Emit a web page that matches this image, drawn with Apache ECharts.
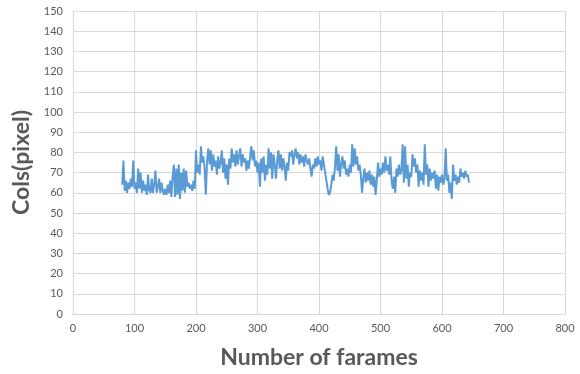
<!DOCTYPE html>
<html>
<head>
<meta charset="utf-8">
<script src="https://cdn.jsdelivr.net/npm/echarts@6/dist/echarts.min.js"></script>
<style>
  html, body { margin: 0; padding: 0; background: #fff; }
  #chart { width: 580px; height: 374px; }
</style>
</head>
<body>
<div id="chart"></div>
<script>
// frame numbers (every 2nd frame) and column values
const frames = [
  80, 82, 84, 86, 88, 90, 92, 94, 96, 98, 100, 102, 104, 106, 108, 110, 112, 114, 116, 118,
  120, 122, 124, 126, 128, 130, 132, 134, 136, 138, 140, 142, 144, 146, 148, 150, 152, 154, 156, 158,
  160, 162, 164, 166, 168, 170, 172, 174, 176, 178, 180, 182, 184, 186, 188, 190, 192, 194, 196, 198,
  200, 202, 204, 206, 208, 210, 212, 214, 216, 218, 220, 222, 224, 226, 228, 230, 232, 234, 236, 238,
  240, 242, 244, 246, 248, 250, 252, 254, 256, 258, 260, 262, 264, 266, 268, 270, 272, 274, 276, 278,
  280, 282, 284, 286, 288, 290, 292, 294, 296, 298, 300, 302, 304, 306, 308, 310, 312, 314, 316, 318,
  320, 322, 324, 326, 328, 330, 332, 334, 336, 338, 340, 342, 344, 346, 348, 350, 352, 354, 356, 358,
  360, 362, 364, 366, 368, 370, 372, 374, 376, 378, 380, 382, 384, 386, 388, 390, 392, 394, 396, 398,
  400, 402, 404, 406, 408, 410, 412, 414, 416, 418, 420, 422, 424, 426, 428, 430, 432, 434, 436, 438,
  440, 442, 444, 446, 448, 450, 452, 454, 456, 458, 460, 462, 464, 466, 468, 470, 472, 474, 476, 478,
  480, 482, 484, 486, 488, 490, 492, 494, 496, 498, 500, 502, 504, 506, 508, 510, 512, 514, 516, 518,
  520, 522, 524, 526, 528, 530, 532, 534, 536, 538, 540, 542, 544, 546, 548, 550, 552, 554, 556, 558,
  560, 562, 564, 566, 568, 570, 572, 574, 576, 578, 580, 582, 584, 586, 588, 590, 592, 594, 596, 598,
  600, 602, 604, 606, 608, 610, 612, 614, 616, 618, 620, 622, 624, 626, 628, 630, 632, 634, 636, 638,
  640, 642, 644
];
const cols = [
  64, 76, 61, 66, 60, 65, 62, 67, 63, 76, 62, 65, 60, 72, 62, 70, 60, 66, 61, 64,
  59, 69, 61, 60, 67, 60, 64, 71, 60, 63, 67, 60, 65, 61, 59, 62, 59, 64, 60, 66,
  58, 68, 74, 58, 72, 59, 74, 57, 70, 61, 72, 60, 71, 63, 65, 62, 64, 61, 66, 62,
  81, 70, 74, 69, 83, 75, 78, 72, 59, 76, 82, 74, 81, 71, 79, 73, 76, 69, 78, 72,
  75, 81, 70, 77, 67, 74, 64, 77, 72, 82, 75, 79, 73, 81, 74, 78, 82, 73, 79, 75,
  77, 71, 76, 72, 78, 83, 76, 81, 73, 76, 70, 75, 63, 77, 70, 78, 66, 74, 69, 82,
  72, 80, 67, 79, 74, 67, 76, 81, 72, 79, 71, 77, 73, 66, 75, 71, 80, 78, 81, 74,
  79, 82, 77, 80, 74, 79, 75, 78, 73, 79, 76, 74, 77, 72, 68, 74, 72, 77, 73, 78,
  74, 76, 71, 78, 74, 70, 66, 62, 59, 60, 64, 69, 66, 73, 83, 71, 79, 68, 74, 78,
  72, 76, 69, 72, 68, 74, 70, 84, 73, 82, 74, 78, 71, 74, 69, 60, 67, 72, 65, 70,
  66, 71, 64, 69, 63, 68, 59, 66, 75, 68, 72, 69, 75, 70, 78, 71, 74, 69, 78, 66,
  62, 68, 60, 72, 68, 74, 69, 71, 84, 65, 83, 67, 74, 63, 70, 68, 79, 73, 77, 70,
  74, 63, 71, 66, 70, 64, 84, 69, 74, 63, 72, 66, 70, 67, 71, 62, 69, 61, 68, 65,
  69, 64, 67, 82, 66, 69, 60, 65, 57, 74, 66, 69, 64, 68, 65, 72, 68, 70, 67, 71,
  68, 69, 65
];

const chart = echarts.init(document.getElementById('chart'));

const gridColor = '#d9d9d9';
const textColor = '#595959';

const option = {
  backgroundColor: '#fff',
  animation: false,
  grid: {
    left: 73,
    right: 15,
    top: 11,
    bottom: 59,
  },
  xAxis: {
    type: 'value',
    min: 0,
    max: 800,
    interval: 100,
    name: 'Number of farames',
    nameLocation: 'middle',
    nameGap: 32,
    nameTextStyle: {
      fontFamily: 'Lato',
      fontWeight: 'bold',
      fontSize: 23,
      color: textColor,
    },
    axisLine: { show: true, lineStyle: { color: gridColor, width: 1 } },
    axisTick: { show: false },
    axisLabel: {
      color: textColor,
      fontFamily: 'Lato',
      fontSize: 11,
      margin: 9,
    },
    splitLine: { show: true, lineStyle: { color: gridColor, width: 1 } },
  },
  yAxis: {
    type: 'value',
    min: 0,
    max: 150,
    interval: 10,
    name: 'Cols(pixel)',
    nameLocation: 'middle',
    nameGap: 39,
    nameTextStyle: {
      fontFamily: 'Lato',
      fontWeight: 'bold',
      fontSize: 23,
      color: textColor,
    },
    axisLine: { show: true, lineStyle: { color: gridColor, width: 1 } },
    axisTick: { show: false },
    axisLabel: {
      color: textColor,
      fontFamily: 'Lato',
      fontSize: 11,
      margin: 10,
    },
    splitLine: { show: true, lineStyle: { color: gridColor, width: 1 } },
  },
  series: [
    {
      type: 'line',
      data: frames.map((f, i) => [f, cols[i]]),
      showSymbol: false,
      symbol: 'none',
      lineStyle: {
        width: 2,
        color: '#5b9bd5',
      },
    },
  ],
};

chart.setOption(option);
</script>
</body>
</html>
